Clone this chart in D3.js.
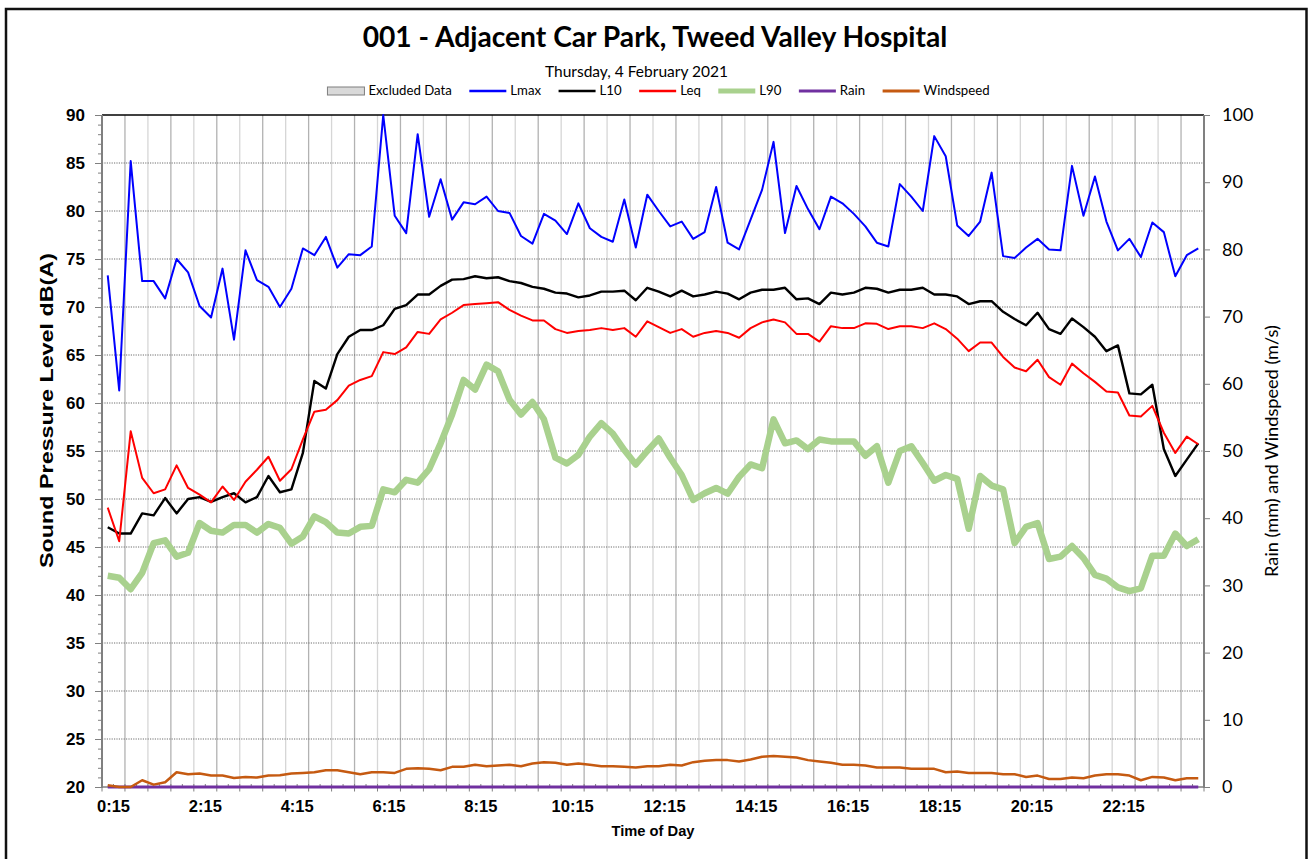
<!DOCTYPE html>
<html><head><meta charset="utf-8">
<script src="https://cdn.jsdelivr.net/npm/d3@7"></script>
<style>body{margin:0;background:#fff}svg{display:block}</style>
</head><body>
<svg id="c" width="1309" height="859"></svg>
<script>
const categories = ["0:15","0:30","0:45","1:00","1:15","1:30","1:45","2:00","2:15","2:30","2:45","3:00","3:15","3:30","3:45","4:00",
"4:15","4:30","4:45","5:00","5:15","5:30","5:45","6:00","6:15","6:30","6:45","7:00","7:15","7:30","7:45","8:00",
"8:15","8:30","8:45","9:00","9:15","9:30","9:45","10:00","10:15","10:30","10:45","11:00","11:15","11:30","11:45","12:00",
"12:15","12:30","12:45","13:00","13:15","13:30","13:45","14:00","14:15","14:30","14:45","15:00","15:15","15:30","15:45","16:00",
"16:15","16:30","16:45","17:00","17:15","17:30","17:45","18:00","18:15","18:30","18:45","19:00","19:15","19:30","19:45","20:00",
"20:15","20:30","20:45","21:00","21:15","21:30","21:45","22:00","22:15","22:30","22:45","23:00","23:15","23:30","23:45","0:00"];
const tickLabels = ["0:15","2:15","4:15","6:15","8:15","10:15","12:15","14:15","16:15","18:15","20:15","22:15"];

const lmax = [73.3,61.3,85.2,72.7,72.7,70.9,75.0,73.6,70.1,68.9,
74.0,66.6,75.9,72.8,72.1,70.0,71.9,76.1,75.4,77.3,
74.1,75.5,75.4,76.3,90.0,79.5,77.7,88.0,79.4,83.3,
79.1,80.9,80.7,81.5,80.0,79.8,77.4,76.6,79.7,79.0,
77.6,80.8,78.2,77.3,76.8,81.2,76.2,81.7,80.0,78.4,
78.9,77.1,77.8,82.5,76.7,76.0,79.1,82.2,87.2,77.7,
82.6,80.2,78.1,81.5,80.8,79.7,78.4,76.7,76.3,82.8,
81.5,80.0,87.8,85.7,78.5,77.4,78.9,84.0,75.3,75.1,
76.2,77.1,76.0,75.9,84.7,79.5,83.6,78.9,75.9,77.1,
75.2,78.8,77.8,73.2,75.4,76.1];

const l10 = [47.05,46.4,46.4,48.5,48.3,50.1,48.5,50.0,50.2,49.7,
50.2,50.6,49.65,50.2,52.4,50.7,51.0,54.8,62.3,61.5,
65.1,66.9,67.6,67.6,68.1,69.8,70.2,71.3,71.3,72.2,
72.85,72.9,73.2,73.0,73.1,72.7,72.5,72.1,71.9,71.5,
71.4,71.0,71.2,71.6,71.6,71.7,70.7,72.0,71.6,71.1,
71.7,71.1,71.3,71.6,71.4,70.8,71.5,71.8,71.8,72.0,
70.8,70.9,70.3,71.5,71.3,71.5,72.0,71.9,71.5,71.8,
71.8,72.0,71.3,71.3,71.1,70.3,70.6,70.6,69.5,68.75,
68.1,69.4,67.7,67.2,68.8,67.9,66.9,65.4,66.0,61.0,
60.9,61.9,55.2,52.4,54.1,55.8];

const leq = [49.1,45.6,57.05,52.2,50.6,51.0,53.5,51.15,50.45,49.65,
51.3,49.9,51.8,53.05,54.4,51.9,53.1,56.2,59.1,59.3,
60.3,61.8,62.4,62.8,65.3,65.1,65.8,67.4,67.2,68.7,
69.4,70.2,70.3,70.4,70.5,69.7,69.1,68.6,68.6,67.7,
67.3,67.5,67.6,67.8,67.6,67.8,66.9,68.5,67.9,67.3,
67.7,66.9,67.3,67.5,67.3,66.8,67.8,68.4,68.7,68.4,
67.2,67.2,66.4,68.0,67.8,67.8,68.3,68.25,67.7,68.0,
68.0,67.8,68.3,67.7,66.7,65.4,66.3,66.3,64.8,63.7,
63.3,64.5,62.7,61.9,64.1,63.1,62.2,61.2,61.1,58.7,
58.6,59.7,56.9,54.8,56.5,55.7];

const l90 = [42.0,41.8,40.6,42.3,45.4,45.7,44.0,44.4,47.5,46.7,
46.5,47.3,47.3,46.5,47.4,47.0,45.35,46.1,48.2,47.6,
46.5,46.4,47.1,47.2,51.0,50.7,52.0,51.7,53.1,55.8,
58.8,62.4,61.4,64.0,63.3,60.35,58.8,60.1,58.3,54.3,
53.7,54.6,56.5,57.9,56.8,55.1,53.6,55.0,56.3,54.3,
52.5,49.9,50.6,51.15,50.55,52.3,53.6,53.2,58.3,55.8,
56.1,55.2,56.2,56.0,56.0,56.0,54.5,55.5,51.7,55.0,
55.5,53.75,51.9,52.5,52.1,46.9,52.4,51.4,51.0,45.4,
47.1,47.5,43.75,44.0,45.1,43.85,42.1,41.7,40.8,40.4,
40.7,44.1,44.1,46.4,45.1,45.8];

const rain = [0,0,0,0,0,0,0,0,0,0,0,0,0,0,0,0,0,0,0,0,0,0,0,0,
0,0,0,0,0,0,0,0,0,0,0,0,0,0,0,0,0,0,0,0,0,0,0,0,
0,0,0,0,0,0,0,0,0,0,0,0,0,0,0,0,0,0,0,0,0,0,0,0,
0,0,0,0,0,0,0,0,0,0,0,0,0,0,0,0,0,0,0,0,0,0,0,0];

const windspeed = [0.25,0,0,1.0,0.35,0.7,2.2,1.9,2.0,1.7,
1.7,1.35,1.5,1.4,1.7,1.75,2.0,2.1,2.2,2.5,
2.5,2.2,1.9,2.2,2.2,2.1,2.7,2.8,2.7,2.5,
3.0,3.0,3.3,3.1,3.2,3.3,3.1,3.5,3.7,3.6,
3.3,3.5,3.3,3.1,3.1,3.0,2.9,3.1,3.1,3.3,
3.2,3.7,3.9,4.0,4.0,3.8,4.1,4.5,4.6,4.5,
4.4,4.0,3.8,3.6,3.3,3.3,3.2,2.9,2.9,2.9,
2.7,2.7,2.7,2.2,2.3,2.1,2.1,2.1,1.9,1.9,
1.5,1.7,1.2,1.2,1.4,1.3,1.7,1.9,1.9,1.7,
1.0,1.5,1.4,1.0,1.3,1.3];

const leftTicks = [20,25,30,35,40,45,50,55,60,65,70,75,80,85,90];
const rightTicks = [0,10,20,30,40,50,60,70,80,90,100];
const legendNames = ["Excluded Data","Lmax","L10","Leq","L90","Rain","Windspeed"];

// ---------- layout & styles ----------
const P = {l:102, r:1204, t:115, b:787};
const seriesStyle = {
  "Lmax":{color:"#0000ff", w:2},
  "L10":{color:"#000000", w:2.4},
  "Leq":{color:"#ff0000", w:2},
  "L90":{color:"#a9d18e", w:6.5},
  "Rain":{color:"#7030a0", w:3},
  "Windspeed":{color:"#c55a11", w:2.5}
};
const svg = d3.select("#c");
const SANS = "'Liberation Sans', Arial, sans-serif";
const CAL = "Lato, 'Open Sans', sans-serif";

function fit(sel, target){
  const w = sel.node().getComputedTextLength();
  const fs = parseFloat(sel.attr("font-size"));
  sel.attr("font-size", (fs*target/w).toFixed(2));
}

svg.append("rect").attr("x",0).attr("y",0).attr("width",1309).attr("height",859).attr("fill","#fff");
// outer frame
svg.append("rect").attr("x",6).attr("y",9).attr("width",1300.5).attr("height",900)
  .attr("fill","none").attr("stroke","#111").attr("stroke-width",2.5);

const x = d3.scaleBand().domain(categories).range([P.l,P.r]).paddingInner(0).paddingOuter(0);
const bw = x.bandwidth();
const cx = c => x(c) + bw/2;
const yL = d3.scaleLinear().domain([20,90]).range([P.b,P.t]);
const yR = d3.scaleLinear().domain([0,100]).range([P.b,P.t]);

const bounds = categories.map(c => x(c)).concat([x.range()[1]]);

// vertical gridlines
const vg = svg.append("g");
bounds.forEach((bx,k) => {
  if (k>0 && k<categories.length && k%2===0) {
    vg.append("line").attr("x1",bx).attr("x2",bx).attr("y1",P.t).attr("y2",P.b)
      .attr("stroke", k%4===2 ? "#b2b2b2" : "#d6d6d6").attr("stroke-width",1.3);
  }
});
// horizontal dotted gridlines
svg.append("g").selectAll("line").data(leftTicks.filter(v=>v>20 && v<90)).join("line")
  .attr("x1",P.l).attr("x2",P.r).attr("y1",d=>yL(d)).attr("y2",d=>yL(d))
  .attr("stroke","#6f6f6f").attr("stroke-width",1).attr("stroke-dasharray","1.2,1.2");

// top border of plot
svg.append("line").attr("x1",P.l).attr("x2",P.r).attr("y1",P.t).attr("y2",P.t)
  .attr("stroke","#000").attr("stroke-width",1.5);

// x axis ticks
const xt = svg.append("g");
bounds.forEach((bx,k) => {
  xt.append("line").attr("x1",bx).attr("x2",bx).attr("y1",P.b-3).attr("y2",P.b)
    .attr("stroke","#808080").attr("stroke-width",1);
  if (k%2===0) xt.append("line").attr("x1",bx).attr("x2",bx).attr("y1",P.b).attr("y2",P.b+4.5)
    .attr("stroke","#808080").attr("stroke-width",1);
});
svg.append("line").attr("x1",P.l).attr("x2",P.r).attr("y1",P.b).attr("y2",P.b)
  .attr("stroke","#808080").attr("stroke-width",1.5);

const xAxis = svg.append("g").attr("transform",`translate(${bw/2},${P.b})`)
  .call(d3.axisBottom(x).tickValues(tickLabels).tickSize(0).tickPadding(13));
xAxis.select(".domain").remove();
xAxis.selectAll("text").attr("font-family",SANS).attr("font-weight","bold").attr("font-size",16.5).attr("fill","#000");

// left axis
const minorLeft = d3.range(20,91,1);
const la = svg.append("g").attr("transform",`translate(${P.l},0)`)
  .call(d3.axisLeft(yL).tickValues(minorLeft).tickSize(4).tickFormat(""));
la.select(".domain").remove();
la.selectAll("line").attr("stroke","#808080");
const laMaj = svg.append("g").attr("transform",`translate(${P.l},0)`)
  .call(d3.axisLeft(yL).tickValues(leftTicks).tickSize(7).tickPadding(10));
laMaj.select(".domain").remove();
laMaj.selectAll("line").attr("stroke","#808080");
laMaj.selectAll("text").attr("font-family",SANS).attr("font-weight","bold").attr("font-size",17).attr("fill","#000");
svg.append("line").attr("x1",P.l).attr("x2",P.l).attr("y1",P.t).attr("y2",P.b+1)
  .attr("stroke","#808080").attr("stroke-width",2);

// right axis
const ra = svg.append("g").attr("transform",`translate(${P.r},0)`)
  .call(d3.axisRight(yR).tickValues(rightTicks).tickSize(6).tickPadding(12));
ra.select(".domain").remove();
ra.selectAll("line").attr("stroke","#808080");
ra.selectAll("text").attr("font-family",CAL).attr("font-size",18).attr("fill","#000");
svg.append("line").attr("x1",P.r).attr("x2",P.r).attr("y1",P.t).attr("y2",P.b+1)
  .attr("stroke","#808080").attr("stroke-width",2);

// series
const lineL = d3.line().x((d,i)=>cx(categories[i])).y(d=>yL(d));
const lineR = d3.line().x((d,i)=>cx(categories[i])).y(d=>yR(d));
const series = [["Lmax",lmax,lineL],["L10",l10,lineL],["Leq",leq,lineL],["L90",l90,lineL],["Rain",rain,lineR],["Windspeed",windspeed,lineR]];
series.forEach(([name,vals,gen]) => {
  svg.append("path").attr("d",gen(vals)).attr("fill","none")
    .attr("stroke",seriesStyle[name].color).attr("stroke-width",seriesStyle[name].w)
    .attr("stroke-linejoin","round").attr("stroke-linecap","butt");
});

// titles
const title = svg.append("text").attr("x",655).attr("y",47).attr("text-anchor","middle")
  .attr("font-family",CAL).attr("font-weight","bold").attr("font-size",22).attr("fill","#000")
  .text("001 - Adjacent Car Park, Tweed Valley Hospital");
fit(title,585);
const sub = svg.append("text").attr("x",636.5).attr("y",76.5).attr("text-anchor","middle")
  .attr("font-family",CAL).attr("font-size",13).attr("fill","#000").text("Thursday, 4 February 2021");
fit(sub,183);

svg.append("text").attr("transform","translate(52.5,410.5) rotate(-90)").attr("text-anchor","middle")
  .attr("font-family",SANS).attr("font-weight","bold").attr("font-size",18).attr("fill","#000")
  .attr("textLength",315).attr("lengthAdjust","spacingAndGlyphs")
  .text("Sound Pressure Level dB(A)");
const yrlab = svg.append("text").attr("transform","translate(1278,451) rotate(-90)").attr("text-anchor","middle")
  .attr("font-family",CAL).attr("font-size",18).attr("fill","#000")
  .text("Rain (mm) and Windspeed (m/s)");
fit(yrlab,252);
const xlab = svg.append("text").attr("x",653).attr("y",835.5).attr("text-anchor","middle")
  .attr("font-family",SANS).attr("font-weight","bold").attr("font-size",13).attr("fill","#000")
  .text("Time of Day");
fit(xlab,83);

// legend
const lg = svg.append("g");
let cur = 0;
legendNames.forEach((name,i) => {
  const g = lg.append("g");
  if (name==="Excluded Data") {
    g.append("rect").attr("x",cur).attr("y",-4).attr("width",37).attr("height",8)
      .attr("fill","#d9d9d9").attr("stroke","#7f7f7f").attr("stroke-width",1);
  } else {
    const s = seriesStyle[name];
    g.append("line").attr("x1",cur).attr("x2",cur+37).attr("y1",0).attr("y2",0)
      .attr("stroke",s.color).attr("stroke-width", name==="L90"?5:(name==="Rain"||name==="Windspeed"?3:2.5));
  }
  const t = g.append("text").attr("x",cur+41).attr("y",4.3).attr("font-family",CAL).attr("font-size",13.2)
    .attr("fill","#000").text(name);
  cur += 41 + t.node().getComputedTextLength() + 17.5;
});
const totalW = cur - 17.5;
lg.attr("transform",`translate(${658.5-totalW/2},91)`);
</script>
</body></html>
